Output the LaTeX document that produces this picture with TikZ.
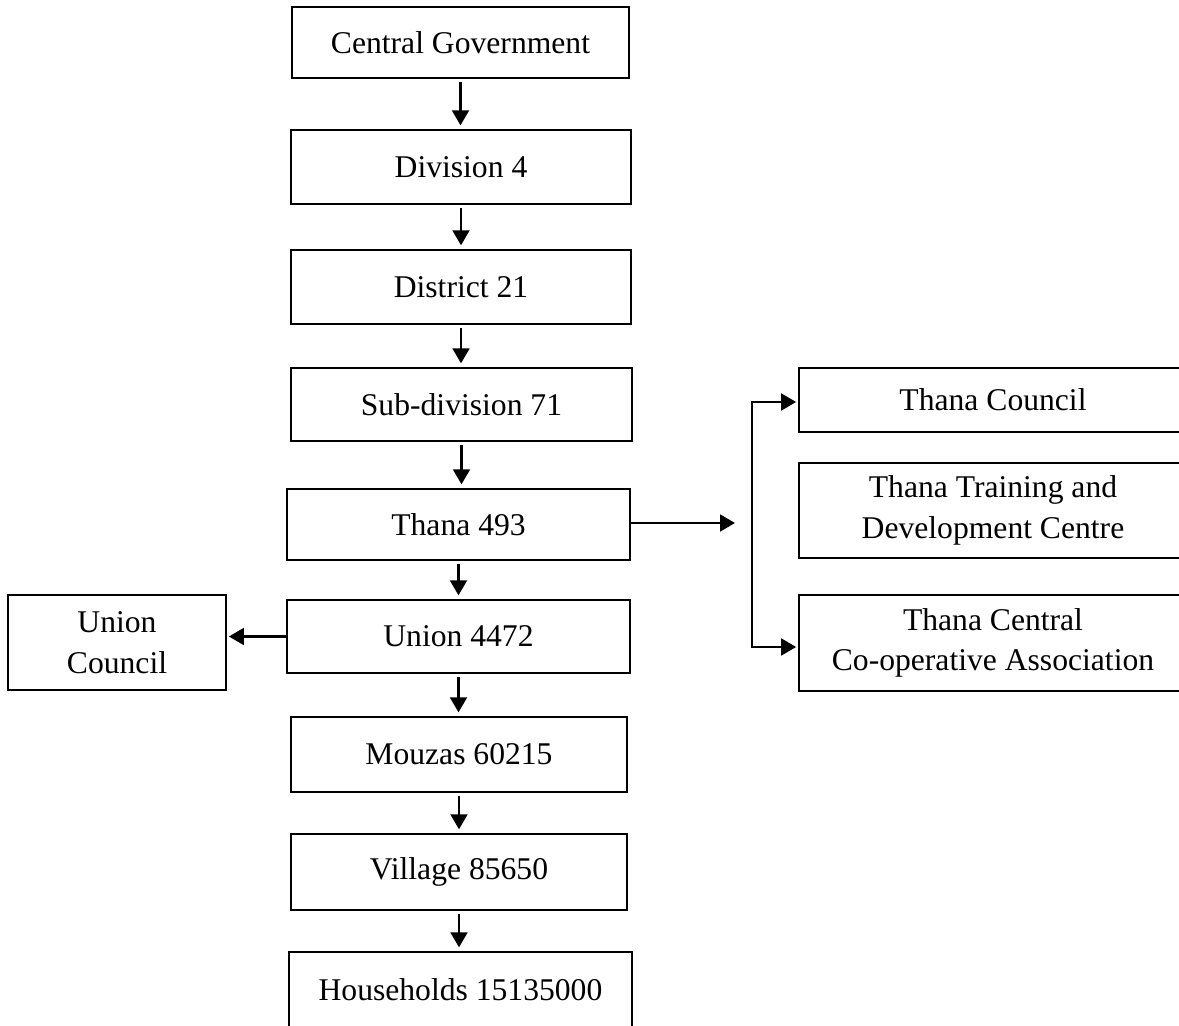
\documentclass[tikz,border=0pt]{standalone}
\usepackage{fontspec}
\setmainfont{Liberation Serif}
\usetikzlibrary{arrows.meta}

\begin{document}
\begin{tikzpicture}[x=0.02cm, y=-0.02cm,
  box/.style={draw, line width=1.3pt, inner sep=0pt, align=center, font=\fontsize{18}{23}\selectfont},
  arr/.style={line width=1.5pt, -{Triangle[length=8.5pt, width=9.5pt]}},
  twoarr/.style={line width=1.5pt, {Triangle[length=8.5pt, width=9.5pt]}-{Triangle[length=8.5pt, width=9.5pt]}}]
\useasboundingbox (0,0) rectangle (1179,1026);
\node[box, minimum width=6.74cm, minimum height=1.42cm] (cg) at (460.5,42.5) {Central Government};
\node[box, minimum width=6.80cm, minimum height=1.48cm] (div) at (461,167) {Division 4};
\node[box, minimum width=6.80cm, minimum height=1.48cm] (dist) at (461,287) {District 21};
\node[box, minimum width=6.82cm, minimum height=1.46cm] (sub) at (461.5,404.5) {Sub-division 71};
\node[box, minimum width=6.86cm, minimum height=1.42cm] (thana) at (458.5,524.5) {Thana 493};
\node[box, minimum width=6.86cm, minimum height=1.46cm] (union) at (458.5,636.5) {Union 4472};
\node[box, minimum width=6.72cm, minimum height=1.50cm] (mouza) at (459,754.5) {Mouzas 60215};
\node[box, minimum width=6.72cm, minimum height=1.52cm] (village) at (459,872) {Village 85650};
\node[box, minimum width=6.86cm, minimum height=1.52cm] (house) at (460.5,990) {Households 15135000};
\node[box, minimum width=4.36cm, minimum height=1.90cm] (uc) at (117,642.5) {Union\\Council};
\node[box, minimum width=7.76cm, minimum height=1.28cm] (tc) at (993,400) {Thana Council};
\node[box, minimum width=7.76cm, minimum height=1.90cm] (ttdc) at (993,510.5) {Thana Training and\\Development Centre};
\node[box, minimum width=7.76cm, minimum height=1.92cm] (tcca) at (993,643) {Thana Central\\Co-operative Association};
\foreach \a/\b in {cg/div, div/dist, dist/sub, sub/thana, thana/union, union/mouza, mouza/village, village/house}
  \draw[arr, shorten <=1.5pt, shorten >=2pt] (\a.south) -- (\a.south |- \b.north);
\draw[arr, shorten >=1pt] (union.west) -- (union.west -| uc.east);
\coordinate (tip) at (735,523);
\draw[arr] (thana.east |- tip) -- (tip);
\coordinate (bt) at (752,402);
\coordinate (bb) at (752,647);
\draw[twoarr, shorten <=1pt, shorten >=1pt] (tc.west |- bt) -- (bt) -- (bb) -- (tcca.west |- bb);
\end{tikzpicture}
\end{document}
